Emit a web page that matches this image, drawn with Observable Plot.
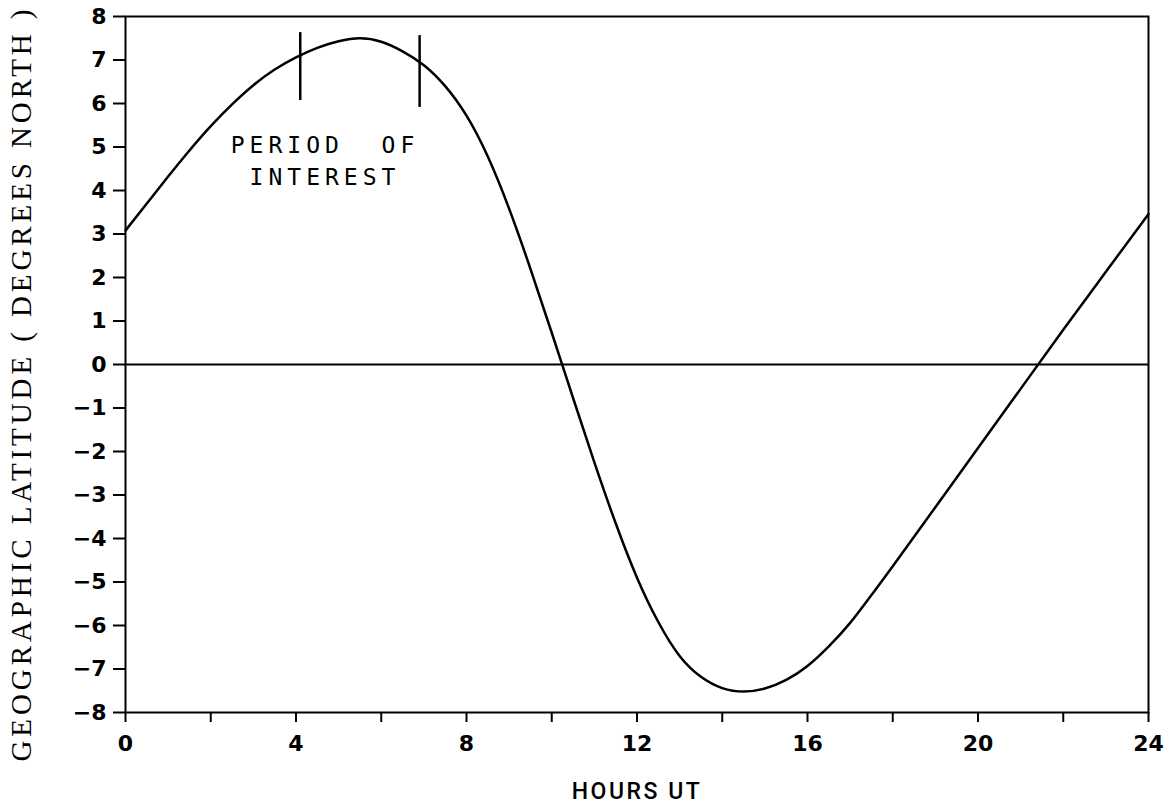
<!DOCTYPE html>
<html>
<head>
<meta charset="utf-8">
<script src="https://cdn.jsdelivr.net/npm/d3@7"></script>
<script src="https://cdn.jsdelivr.net/npm/@observablehq/plot@0.6"></script>
<style>
  html, body { margin: 0; padding: 0; background: #fff; }
  #chart svg { display: block; }
</style>
</head>
<body>
<div id="chart"></div>
<script>
// Curve: geographic latitude vs hours UT
const hours = [0, 0.5, 1, 1.5, 2, 2.5, 3, 3.5, 4, 4.5, 5, 5.5, 6, 6.5, 7, 7.5, 8, 8.5, 9, 9.5, 10, 10.5, 11, 11.5, 12, 12.5, 13, 13.5, 14, 14.5, 15, 15.5, 16, 16.5, 17, 17.5, 18, 19, 20, 21, 22, 23, 24];
const latitude = [3.08, 3.7, 4.32, 4.92, 5.48, 5.98, 6.42, 6.78, 7.06, 7.28, 7.43, 7.5, 7.42, 7.2, 6.88, 6.4, 5.72, 4.78, 3.58, 2.2, 0.73, -0.77, -2.25, -3.65, -4.9, -5.92, -6.7, -7.18, -7.44, -7.52, -7.45, -7.25, -6.93, -6.48, -5.94, -5.3, -4.64, -3.28, -1.92, -0.56, 0.8, 2.13, 3.46];

// Period-of-interest markers
const periodHours = [4.1, 6.9];
const periodLow = [6.07, 5.91];
const periodHigh = [7.63, 7.56];
const periodLines = ["PERIOD  OF", "INTEREST"];
const periodLabelHour = [4.68, 4.68];
const periodLabelLat = [5.03, 4.3];

// Axis ticks and labels
const xTicks = [0, 2, 4, 6, 8, 10, 12, 14, 16, 18, 20, 22, 24];
const yTicks = [-8, -7, -6, -5, -4, -3, -2, -1, 0, 1, 2, 3, 4, 5, 6, 7, 8];
const xTitle = "HOURS UT";
const yTitle = "GEOGRAPHIC LATITUDE ( DEGREES NORTH )";

const curve = hours.map((h, i) => ({hour: h, lat: latitude[i]}));
const period = periodHours.map((h, i) => ({hour: h, y1: periodLow[i], y2: periodHigh[i]}));
const periodText = periodLines.map((t, i) => ({text: t, hour: periodLabelHour[i], lat: periodLabelLat[i]}));

const chart = Plot.plot({
  width: 1174,
  height: 811,
  marginLeft: 125,
  marginRight: 26,
  marginTop: 16,
  marginBottom: 99,
  style: {fontFamily: "DejaVu Sans", fontSize: "22px", fontWeight: "bold", background: "white", color: "black"},
  x: {domain: [0, 24], label: null},
  y: {domain: [-8, 8], label: null},
  marks: [
    Plot.axisX({ticks: xTicks, tickSize: 10, tickPadding: 13, strokeWidth: 2, tickFormat: d => d % 4 === 0 ? String(d) : "", label: null}),
    Plot.axisY({ticks: yTicks, tickSize: 12, tickPadding: 7, strokeWidth: 2, label: null}),
    Plot.frame({stroke: "black", strokeWidth: 2}),
    Plot.ruleY([0], {stroke: "black", strokeWidth: 2}),
    Plot.line(curve, {x: "hour", y: "lat", curve: "natural", stroke: "black", strokeWidth: 2.5}),
    Plot.ruleX(period, {x: "hour", y1: "y1", y2: "y2", stroke: "black", strokeWidth: 2.5}),
    Plot.text(periodText, {x: "hour", y: "lat", text: "text",
      fontFamily: "DejaVu Sans Mono", fontSize: 23, fontWeight: "normal", fill: "black"}),
    Plot.text([xTitle], {frameAnchor: "bottom", dy: 79, lineAnchor: "middle",
      fontFamily: "Roboto", fontSize: 23, fontWeight: 500, fill: "black"}),
    Plot.text([yTitle], {frameAnchor: "left", dx: -104, dy: 21, rotate: -90, textAnchor: "middle", lineAnchor: "middle",
      fontFamily: "Liberation Serif", fontSize: 29, fontWeight: "normal", fill: "black"})
  ]
});

document.getElementById("chart").appendChild(chart);
const texts = d3.select(chart).selectAll("text");
texts.filter(function() { return this.textContent === yTitle; })
  .attr("textLength", 752)
  .attr("lengthAdjust", "spacing");
texts.filter(function() { return this.textContent === xTitle; })
  .style("letter-spacing", "2.5px");
texts.filter(function() { return periodLines.includes(this.textContent); })
  .style("letter-spacing", "5px");
</script>
</body>
</html>
